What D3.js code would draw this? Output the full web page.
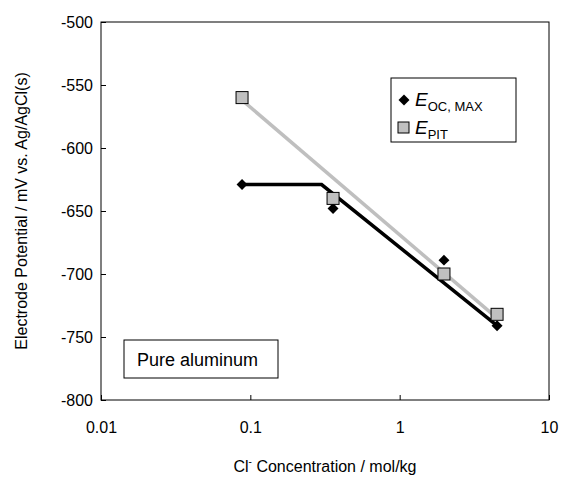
<!DOCTYPE html><html><head><meta charset="utf-8"><script src="https://cdn.jsdelivr.net/npm/d3@7"></script>
<style>body{margin:0;background:#fff}text{font-family:Arial,"Liberation Sans",sans-serif}</style></head><body>
<svg id="c" width="565" height="482"></svg>
<script>
const conc=[0.088,0.358,1.98,4.49];
const eoc=[-629,-648,-689,-741];
const epit=[-560,-640,-700,-732];
const ocFit=[[0.088,-629],[0.3,-629],[4.49,-741]];
const pitFit=[[0.088,-562],[4.49,-735]];
const xTicks=[0.01,0.1,1,10], xLabels=["0.01","0.1","1","10"];
const yTicks=[-800,-750,-700,-650,-600,-550,-500];
const svg=d3.select("#c");
const x=d3.scaleLog().domain([0.01,10]).range([101,549]);
const y=d3.scaleLinear().domain([-800,-500]).range([400,22]);
svg.append("rect").attr("x",101).attr("y",22).attr("width",448).attr("height",378).attr("fill","none").attr("stroke","#000");
const xa=svg.append("g").attr("transform","translate(0,400)").call(d3.axisBottom(x).tickValues(xTicks).tickFormat((d,i)=>xLabels[i]).tickSize(5).tickSizeOuter(0));
const ya=svg.append("g").attr("transform","translate(101,0)").call(d3.axisLeft(y).tickValues(yTicks).tickFormat(d=>String(d)).tickSize(5).tickSizeOuter(0));
[xa,ya].forEach(a=>{a.selectAll("text").attr("font-size",16).attr("fill","#000");a.select(".domain").remove();a.selectAll("line").attr("stroke","#000");});
xa.selectAll("line").attr("y2",-5);ya.selectAll("line").attr("x2",5);
xa.selectAll("text").attr("y",22);
const ln=d3.line().x(d=>x(d[0])).y(d=>y(d[1]));
svg.append("path").attr("d",ln(pitFit)).attr("stroke","#bfbfbf").attr("stroke-width",3.5).attr("fill","none");
svg.append("path").attr("d",ln(ocFit)).attr("stroke","#000").attr("stroke-width",3.5).attr("fill","none");
conc.forEach((c,i)=>{
 svg.append("path").attr("d",d3.symbol(d3.symbolSquare,60)()).attr("transform",`translate(${x(c)},${y(eoc[i])}) rotate(45)`).attr("fill","#000");
});
conc.forEach((c,i)=>{
 svg.append("rect").attr("x",x(c)-6).attr("y",y(epit[i])-6).attr("width",12).attr("height",12).attr("fill","#c0c0c0").attr("stroke","#000");
});
svg.append("rect").attr("x",391).attr("y",78).attr("width",125).attr("height",64).attr("fill","#fff").attr("stroke","#000");
svg.append("path").attr("d",d3.symbol(d3.symbolSquare,60)()).attr("transform","translate(404,100) rotate(45)").attr("fill","#000");
svg.append("rect").attr("x",398).attr("y",122).attr("width",11).attr("height",11).attr("fill","#c0c0c0").attr("stroke","#000");
const l1=svg.append("text").attr("x",415).attr("y",106).attr("font-size",19);
l1.append("tspan").attr("font-style","italic").text("E");l1.append("tspan").attr("font-size",13).attr("dy",5).text("OC, MAX");
const l2=svg.append("text").attr("x",415).attr("y",134).attr("font-size",19);
l2.append("tspan").attr("font-style","italic").text("E");l2.append("tspan").attr("font-size",13).attr("dy",5).text("PIT");
svg.append("rect").attr("x",124).attr("y",340).attr("width",154).attr("height",38).attr("fill","#fff").attr("stroke","#000");
svg.append("text").attr("x",137).attr("y",366).attr("font-size",18).text("Pure aluminum");
const xt=svg.append("text").attr("x",325).attr("y",472).attr("text-anchor","middle").attr("font-size",16);
xt.append("tspan").text("Cl");xt.append("tspan").attr("font-size",10).attr("dy",-7).text("-");xt.append("tspan").attr("dy",7).text(" Concentration / mol/kg");
svg.append("text").attr("transform","translate(27,211) rotate(-90)").attr("text-anchor","middle").attr("font-size",16).text("Electrode Potential / mV vs. Ag/AgCl(s)");
</script></body></html>
